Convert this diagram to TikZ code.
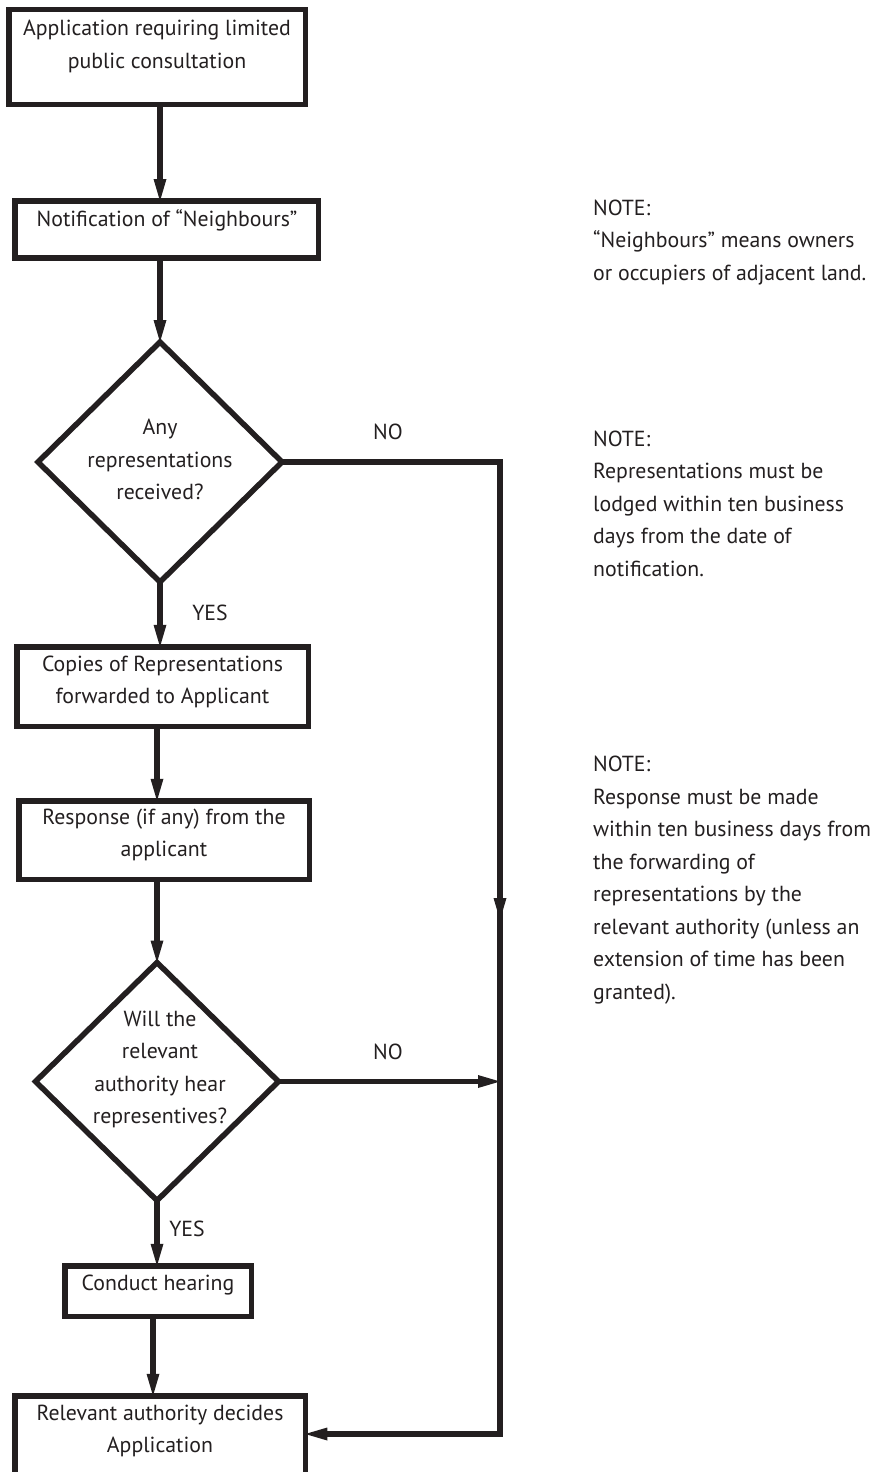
\documentclass[tikz,border=0pt]{standalone}
\usepackage{fontspec}
\setmainfont{PT Sans}
\usetikzlibrary{arrows.meta,shapes.geometric}
\definecolor{ink}{HTML}{231F20}
\begin{document}
\begin{tikzpicture}[x=1pt,y=-1pt,
  box/.style={draw=ink, line width=5.5pt, rectangle, inner sep=0pt, outer sep=0pt},
  decision/.style={draw=ink, line width=5.5pt, diamond, inner sep=0pt, outer sep=0pt},
  txt/.style={text=ink, align=center, inner sep=0pt, font=\fontsize{21.8}{32.5}\selectfont},
  note/.style={text=ink, align=left, inner sep=0pt, anchor=west, font=\fontsize{21.8}{32.5}\selectfont},
  link/.style={draw=ink, line width=5.3pt},
  arr/.style={link, -{Triangle[length=22pt, width=13pt, line width=0pt]}}
]
\useasboundingbox (0,0) rectangle (875,1472);

% process boxes
\node[box, minimum width=296.5pt, minimum height=94.5pt] (b1) at (157,57) {};
\node[box, minimum width=303.5pt, minimum height=57pt]   (b2) at (166.5,229.5) {};
\node[box, minimum width=291.5pt, minimum height=79.5pt] (b3) at (162.5,686.5) {};
\node[box, minimum width=290.5pt, minimum height=78.5pt] (b4) at (164,840) {};
\node[box, minimum width=186.5pt, minimum height=50.5pt] (b5) at (158,1291) {};
\node[box, minimum width=290.5pt, minimum height=80.5pt] (b6) at (160,1436) {};

% decisions
\node[decision, minimum width=244pt, minimum height=240pt] (d1) at (160,462) {};
\node[decision, minimum width=243pt, minimum height=238pt] (d2) at (157,1081.5) {};

% box texts
\node[txt] (t1) at (157,46.5) {Application requiring limited\\public consultation};
\node[txt] (t2) at (167,220) {Notification of “Neighbours”};
\node[txt] (t3) at (162.5,682) {Copies of Representations\\forwarded to Applicant};
\node[txt] (t4) at (164,835) {Response (if any) from the\\applicant};
\node[txt] (t5) at (158,1285) {Conduct hearing};
\node[txt] (t6) at (160,1431) {Relevant authority decides\\Application};
\node[txt] (q1) at (160,459.5) {Any\\representations\\received?};
\node[txt] (q2) at (160,1069.5) {Will the\\relevant\\authority hear\\representives?};

% branch labels
\node[txt] (no1) at (388,432) {NO};
\node[txt] (no2) at (388,1052) {NO};
\node[txt] (yes1) at (210,613) {YES};
\node[txt] (yes2) at (187,1229) {YES};

% notes
\node[note] (n1) at (593,242.5) {NOTE:\\“Neighbours” means owners\\or occupiers of adjacent land.};
\node[note] (n2) at (593,503.5) {NOTE:\\Representations must be\\lodged within ten business\\days from the date of\\notification.};
\node[note] (n3) at (593,880) {NOTE:\\Response must be made\\within ten business days from\\the forwarding of\\representations by the\\relevant authority (unless an\\extension of time has been\\granted).};

% main flow
\draw[arr] (b1.south -| d1.north) -- (b2.north -| d1.north);
\draw[arr] (b2.south -| d1.north) -- (d1.north);
\draw[arr] (d1.south) -- (b3.north -| d1.south);
\draw[arr] (b3.south -| d2.north) -- (b4.north -| d2.north);
\draw[arr] (b4.south -| d2.north) -- (d2.north);
\draw[arr] (d2.south) -- (b5.north -| d2.south);
\draw[arr] ([xshift=-5pt]b5.south) -- ([xshift=-5pt]b5.south |- b6.north);

% NO branches along the right-hand rail
\coordinate (rail) at (500,0);
\coordinate (mid) at (500,920);
\draw[link, line join=miter] (d1.east) -- (d1.east -| rail) -- (mid);
\draw[arr] (d1.east -| rail) -- (mid);
\draw[arr, line join=miter] (mid) -- (rail |- 0,1434) -- (b6.east |- 0,1434);
\draw[arr] (d2.east) -- (d2.east -| rail);
\end{tikzpicture}
\end{document}
